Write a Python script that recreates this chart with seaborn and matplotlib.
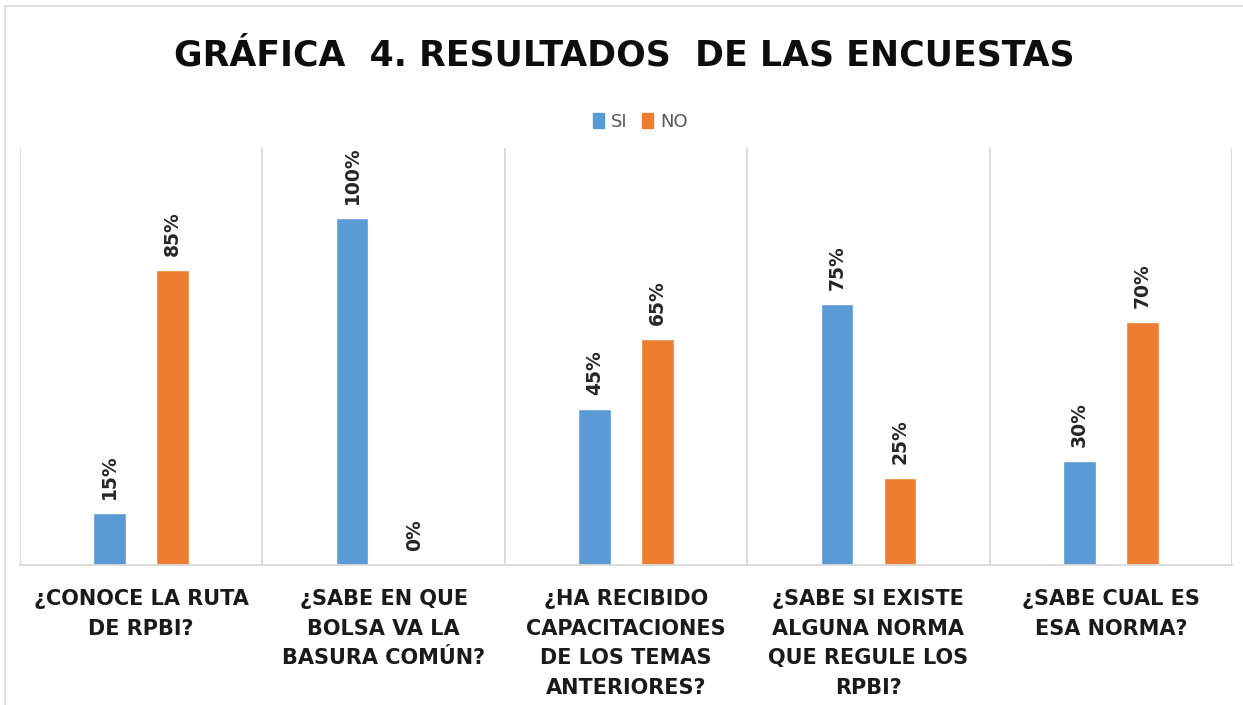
import seaborn as sns
import matplotlib.pyplot as plt
import pandas as pd
from matplotlib.patches import Rectangle

# data
preguntas = ['¿CONOCE LA RUTA\nDE RPBI?',
             '¿SABE EN QUE\nBOLSA VA LA\nBASURA COMÚN?',
             '¿HA RECIBIDO\nCAPACITACIONES\nDE LOS TEMAS\nANTERIORES?',
             '¿SABE SI EXISTE\nALGUNA NORMA\nQUE REGULE LOS\nRPBI?',
             '¿SABE CUAL ES\nESA NORMA?']
si = [15, 100, 45, 75, 30]
no = [85, 0, 65, 25, 70]
respuestas = ['SI', 'NO']
colores = ['#5B9BD5', '#ED7D31']

df = pd.DataFrame({
    'pregunta': preguntas * 2,
    'valor': si + no,
    'respuesta': ['SI'] * len(si) + ['NO'] * len(no),
})

sns.set_style('white')
plt.rcParams['font.family'] = ['DejaVu Sans']

fig = plt.figure(figsize=(12.43, 7.05), dpi=100)
ax = fig.add_axes([20 / 1243, 1 - 565 / 705, 1212 / 1243, (565 - 148) / 705])

# outer chart border (only left and top show in the crop)
fig.patches.append(Rectangle((5 / 1243, -0.05), 1.1, 1 - 6 / 705 + 0.05,
                             transform=fig.transFigure, fill=False,
                             edgecolor='#D9D9D9', linewidth=1.2))

sns.barplot(data=df, x='pregunta', y='valor', hue='respuesta',
            hue_order=respuestas, palette=colores, saturation=1,
            width=0.52, gap=0.48, ax=ax, legend=False)

for cont in ax.containers:
    ax.bar_label(cont, labels=[f'{v:.0f}%' for v in cont.datavalues],
                 rotation=90, padding=10, fontsize=13.5, fontweight='bold',
                 color='#262626')

ax.set_ylim(0, 120)
ax.set_xlim(-0.5, len(preguntas) - 0.5)
ax.set_yticks([])
ax.set_xlabel('')
ax.set_ylabel('')
ax.set_xticks([i - 0.5 for i in range(len(preguntas) + 1)], minor=True)
ax.grid(which='minor', axis='x', color='#D9D9D9', linewidth=1.3)
ax.tick_params(axis='x', which='both', length=0)
ax.tick_params(axis='x', which='major', pad=17)
ax.set_xticks(range(len(preguntas)))
ax.set_xticklabels(preguntas, fontsize=15, fontweight='bold',
                   color='#1a1a1a', linespacing=1.62, va='top')
for s in ['top', 'left', 'right']:
    ax.spines[s].set_visible(False)
ax.spines['bottom'].set_color('#D9D9D9')
ax.spines['bottom'].set_linewidth(1.3)

fig.text(0.502, 1 - 55 / 705, 'GRÁFICA  4. RESULTADOS  DE LAS ENCUESTAS',
         ha='center', va='center', fontsize=25, fontweight='bold',
         color='#0d0d0d')

handles = [Rectangle((0, 0), 1, 1, color=c) for c in colores]
fig.legend(handles, respuestas, loc='center', bbox_to_anchor=(0.515, 1 - 122 / 705),
           ncol=2, frameon=False, fontsize=13, labelcolor='#595959',
           handlelength=0.6, handleheight=0.9, handletextpad=0.4,
           columnspacing=0.8)

fig.savefig('out.png', dpi=100)
